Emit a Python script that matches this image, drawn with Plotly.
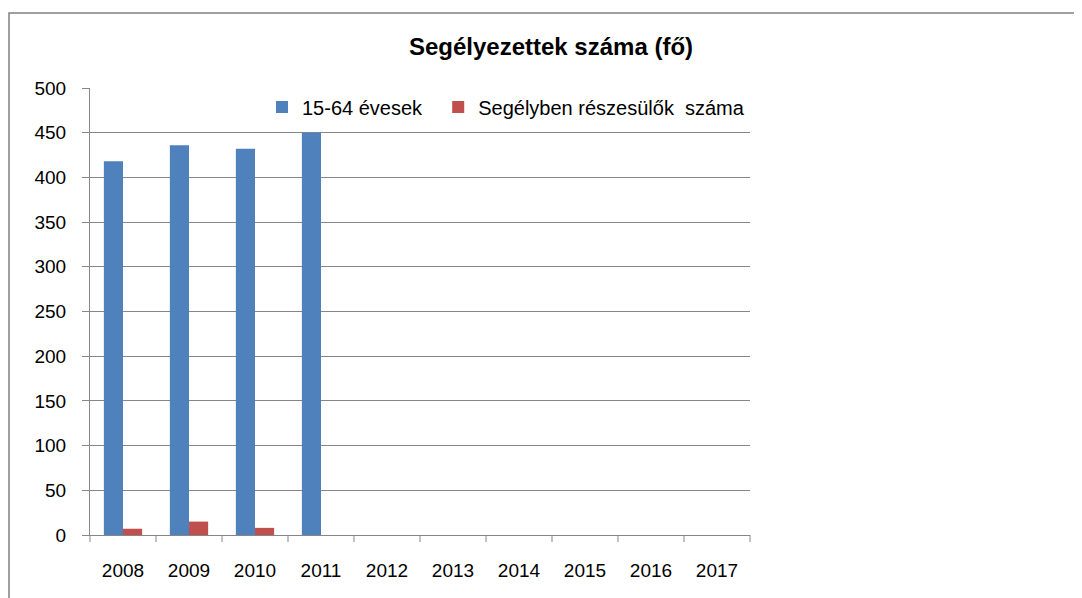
import plotly.graph_objects as go

years = ["2008", "2009", "2010", "2011", "2012", "2013", "2014", "2015", "2016", "2017"]
blue_vals = [418, 436, 432, 450, None, None, None, None, None, None]
red_vals = [7, 15, 8, None, None, None, None, None, None, None]
y_ticks = [0, 50, 100, 150, 200, 250, 300, 350, 400, 450, 500]

FONT = "Liberation Sans"
OFF = 8  # page body margin
W, H = 1082 - OFF, 598 - OFF
# plot area in window pixels: x 90..750, y 88..535
L, R, T, B = 90 - OFF, 1082 - 750, 88 - OFF, 598 - 535
pw, ph = W - L - R, H - T - B


def px2x(p):  # window px -> paper x
    return (p - OFF - L) / pw


def px2y(p):  # window px -> paper y
    return (H - B - (p - OFF)) / ph


fig = go.Figure()
fig.add_trace(go.Bar(x=years, y=blue_vals, name="15-64 évesek\u00a0\u00a0",
                     marker=dict(color="#4F81BD", line=dict(width=0))))
fig.add_trace(go.Bar(x=years, y=red_vals, name="Segélyben részesülők  száma",
                     marker=dict(color="#C0504D", line=dict(width=0))))

fig.update_layout(
    width=W, height=H,
    margin=dict(l=L, r=R, t=T, b=B),
    paper_bgcolor="white", plot_bgcolor="white",
    barmode="group", bargap=0.42, bargroupgap=0,
    font=dict(family=FONT, size=19, color="#000000"),
    title=dict(text="<b>Segélyezettek száma (fő)</b>", x=px2x(551), xref="paper",
               xanchor="center", y=1 - (47 - OFF) / H, yanchor="middle",
               font=dict(family=FONT, size=24, color="#000000")),
    legend=dict(orientation="h", x=px2x(262), y=px2y(107), xanchor="left", yanchor="middle",
                bgcolor="rgba(0,0,0,0)", font=dict(family=FONT, size=20),
                itemwidth=30, traceorder="normal"),
    xaxis=dict(type="category", categoryorder="array", categoryarray=years,
               range=[-0.5, 9.5], showgrid=False, showline=True, linecolor="#868686",
               linewidth=1, ticks="", tickfont=dict(size=19), ticklabelstandoff=18),
    yaxis=dict(range=[0, 500], tickvals=y_ticks, showgrid=True, gridcolor="#868686",
               gridwidth=1, showline=True, linecolor="#868686", linewidth=1,
               ticks="outside", ticklen=7, tickcolor="#868686",
               tickfont=dict(size=19), zeroline=False, ticklabelstandoff=12),
    shapes=[
        dict(type="rect", xref="paper", yref="paper",
             x0=px2x(9), y0=px2y(13), x1=px2x(1100), y1=px2y(620),
             line=dict(color="#808080", width=1.5), fillcolor="rgba(0,0,0,0)", layer="below"),
    ] + [
        dict(type="line", xref="paper", yref="paper",
             x0=i / 10, x1=i / 10, y0=0, y1=px2y(542),
             line=dict(color="#868686", width=1))
        for i in range(11)
    ],
)

fig.write_html("out.html")
